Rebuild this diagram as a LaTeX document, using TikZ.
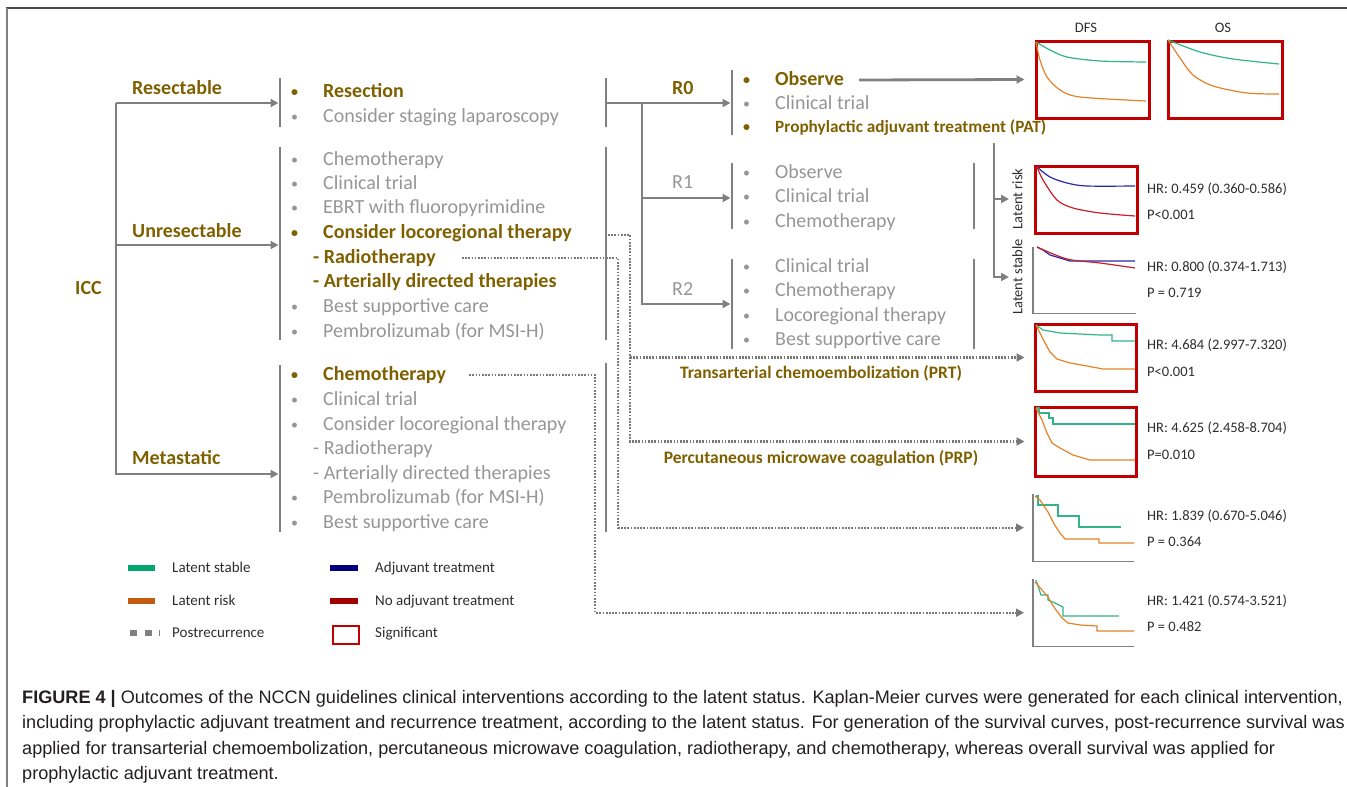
\documentclass[tikz,border=0pt]{standalone}
\usepackage{fontspec}
\setmainfont{Carlito}
\newfontfamily\capfont{Liberation Sans}
\usetikzlibrary{arrows.meta,positioning,calc}

\definecolor{golden}{RGB}{127,96,0}
\definecolor{itemgray}{RGB}{150,150,150}
\definecolor{linegray}{RGB}{128,128,128}
\definecolor{dotgray}{RGB}{120,120,120}
\definecolor{framedark}{RGB}{75,75,75}
\definecolor{barstable}{RGB}{0,166,110}
\definecolor{barrisk}{RGB}{197,90,17}
\definecolor{curvestable}{RGB}{50,180,135}
\definecolor{curverisk}{RGB}{228,130,40}
\definecolor{baradj}{RGB}{0,0,128}
\definecolor{barnoadj}{RGB}{160,0,0}
\definecolor{curveadj}{RGB}{40,40,170}
\definecolor{curvenoadj}{RGB}{200,30,40}
\definecolor{sigred}{RGB}{192,0,0}
\definecolor{inktext}{RGB}{45,45,45}
\definecolor{capink}{RGB}{35,31,32}

\newcommand{\bul}{\makebox[34pt][l]{\hspace{2pt}\raisebox{1.6pt}{\fontsize{14}{14}\selectfont\textbullet}}}

\tikzset{
  tree/.style={draw=linegray,line width=2.8pt},
  postrec/.style={draw=dotgray,line width=2.3pt,dash pattern=on 1.7pt off 1.5pt,->},
  txt/.style={anchor=west,inner sep=0pt,text height=15pt,text depth=3.4pt},
  item/.style={txt,text=itemgray,font=\fontsize{20}{24}\selectfont},
  keyitem/.style={txt,text=golden,font=\fontsize{20}{24}\selectfont\bfseries},
  smallkey/.style={anchor=center,inner sep=0pt,text=golden,font=\fontsize{17.5}{21}\selectfont\bfseries,text height=13pt,text depth=3pt},
  note/.style={anchor=west,inner sep=0pt,text=inktext,font=\fontsize{14.5}{17}\selectfont,text height=11pt,text depth=2.5pt},
  legend/.style={note,font=\fontsize{15}{18}\selectfont},
  sigbox/.style={draw=sigred,line width=3pt,inner sep=0pt,anchor=north west},
  kmaxes/.style={inner sep=0pt,anchor=north west},
  axis/.style={draw=gray,line width=1.2pt},
  curve/.style={line width=1.2pt},
  caption/.style={anchor=base west,inner sep=0pt,text=capink,font=\capfont\fontsize{18.1}{22}\selectfont},
}

\begin{document}
\begin{tikzpicture}[x=1pt,y=-1pt,>={Triangle[length=8pt,width=8pt]}]
\useasboundingbox (0,0) rectangle (1347,787);
% cornice
\draw[framedark,line width=1.8pt] (6,8) -- (1347,8);
\draw[gray,line width=1.6pt] (7,8) -- (7,787);

% ICC: tre rami
\node[keyitem] (icc) at (75,289) {ICC};
\node[keyitem] (resectable) at (132,89) {Resectable};
\node[keyitem] (unresectable) at (132,232) {Unresectable};
\node[keyitem] (metastatic) at (132,459) {Metastatic};
\coordinate (icctop) at (116,103);
\coordinate (resin) at (278.5,103);
\coordinate (unin) at (278.5,245);
\coordinate (metin) at (278.5,474);
\draw[tree,->] (icctop) -- (resin);
\draw[tree,->] (icctop) |- (unin);
\draw[tree,->] (icctop) |- (metin);

% parentesi delle liste
\draw[tree] (280,78) -- (280,127);
\draw[tree] (280,147) -- (280,340);
\draw[tree] (280,365) -- (280,532);
\draw[tree] (606,78) -- (606,127);
\draw[tree] (606,147) -- (606,340);
\draw[tree] (606,363) -- (606,532);
\draw[tree] (732,70) -- (732,135);
\draw[tree] (732,163) -- (732,229);
\draw[tree] (974,163) -- (974,229);
\draw[tree] (732,259) -- (732,349);
\draw[tree] (974,259) -- (974,349);

% resectable
\node[keyitem] (resection) at (289,92) {\bul Resection};
\node[item] (staging) at (289,117) {\bul Consider staging laparoscopy};

% unresectable
\node[item] (uchemo) at (289,160) {\bul Chemotherapy};
\node[item] (utrial) at (289,184) {\bul Clinical trial};
\node[item] (uebrt) at (289,208) {\bul EBRT with fluoropyrimidine};
\node[keyitem] (uloco) at (289,233) {\bul Consider locoregional therapy};
\node[keyitem] (uradio) at (313,258) {- Radiotherapy};
\node[keyitem] (uart) at (313,282) {- Arterially directed therapies};
\node[item] (ubsc) at (289,307) {\bul Best supportive care};
\node[item] (upembro) at (289,332) {\bul Pembrolizumab (for MSI-H)};

% metastatic
\node[keyitem] (mchemo) at (289,375) {\bul Chemotherapy};
\node[item] (mtrial) at (289,400) {\bul Clinical trial};
\node[item] (mloco) at (289,425) {\bul Consider locoregional therapy};
\node[item] (mradio) at (313,449) {- Radiotherapy};
\node[item] (mart) at (313,474) {- Arterially directed therapies};
\node[item] (mpembro) at (289,498) {\bul Pembrolizumab (for MSI-H)};
\node[item] (mbsc) at (289,523) {\bul Best supportive care};

% margini di resezione R0, R1, R2
\node[keyitem] (rzero) at (672,89) {R0};
\node[item] (rone) at (672,183) {R1};
\node[item] (rtwo) at (672,290) {R2};
\coordinate (rstem) at (606,103);
\coordinate (rsplit) at (642,103);
\coordinate (r0in) at (730.5,103);
\coordinate (r1in) at (730.5,198);
\coordinate (r2in) at (730.5,304);
\draw[tree,->] (rstem) -- (r0in);
\draw[tree,->] (rsplit) |- (r1in);
\draw[tree,->] (rsplit) |- (r2in);

\node[keyitem] (r0obs) at (741,80) {\bul Observe};
\node[item] (r0trial) at (741,104) {\bul Clinical trial};
\node[keyitem,font=\fontsize{17.2}{21}\selectfont\bfseries] (r0pat) at (741,127) {\bul Prophylactic adjuvant treatment (PAT)};
\node[item] (r1obs) at (741,173) {\bul Observe};
\node[item] (r1trial) at (741,197) {\bul Clinical trial};
\node[item] (r1chemo) at (741,222) {\bul Chemotherapy};
\node[item] (r2trial) at (741,267) {\bul Clinical trial};
\node[item] (r2chemo) at (741,291) {\bul Chemotherapy};
\node[item] (r2loco) at (741,316) {\bul Locoregional therapy};
\node[item] (r2bsc) at (741,340) {\bul Best supportive care};

% curve DFS e OS
\node[note,anchor=center] (dfslab) at (1086,28) {DFS};
\node[note,anchor=center] (oslab) at (1223,28) {OS};
\node[sigbox,minimum width=113pt,minimum height=77pt] (dfs) at (1034.5,39.5) {};
\node[sigbox,minimum width=114pt,minimum height=77pt] (os) at (1166.5,39.5) {};
\draw[curve,curvestable] plot[smooth] coordinates {(1036,42) (1050,50) (1067,57) (1100,61) (1146,62)};
\draw[curve,curverisk] plot[smooth] coordinates {(1036,42) (1040,60) (1047,77) (1060,90) (1080,97) (1146,101)};
\draw[curve,curvestable] plot[smooth] coordinates {(1168,40) (1200,52) (1233,59) (1279,64)};
\draw[curve,curverisk] plot[smooth] coordinates {(1168,40) (1180,58) (1193,75) (1213,86) (1247,93) (1279,94)};
\draw[->,tree] ([xshift=15pt]r0obs.east) -- ([xshift=-10pt]dfs.west);

% PAT: latent risk / latent stable
\node[note,anchor=center,rotate=90] (lrisk) at (1018,199) {Latent risk};
\node[note,anchor=center,rotate=90] (lstable) at (1018,277) {Latent stable};
\coordinate (pattop) at (994,143);
\coordinate (patrisk) at (1009,199);
\coordinate (patstable) at (1009,277);
\draw[tree,->] (pattop) |- (patrisk);
\draw[tree,->] (pattop) |- (patstable);

\node[sigbox,minimum width=102pt,minimum height=67pt] (lr) at (1033.5,164.5) {};
\draw[curve,curveadj] plot[smooth] coordinates {(1037,167) (1050,177) (1067,183) (1087,186) (1135,186)};
\draw[curve,curvenoadj] plot[smooth] coordinates {(1037,167) (1043,180) (1057,200) (1073,208) (1100,213) (1135,216)};
\node[note] (lrhr) at (1147,189) {HR: 0.459 (0.360-0.586)};
\node[note] (lrp) at (1147,215) {P<0.001};

\node[kmaxes,minimum width=103pt,minimum height=66pt] (ls) at (1033,247) {};
\draw[axis] (ls.north west) |- (ls.south east);
\draw[curve,curveadj] (1037,247) -- (1043,250) -- (1050,255) -- (1060,258) -- (1070,261) -- (1135,261);
\draw[curve,curvenoadj] plot[smooth] coordinates {(1037,247) (1067,259) (1100,263) (1135,268)};
\node[note] (lshr) at (1147,267) {HR: 0.800 (0.374-1.713)};
\node[note] (lsp) at (1147,293) {P = 0.719};

% trattamenti della recidiva
\node[sigbox,minimum width=101pt,minimum height=67pt] (tace) at (1033.5,322.5) {};
\draw[curve,curvestable] (1036,325) -- (1043,330) -- (1060,333) -- (1100,335) -- (1112,335) -- (1112,341) -- (1135,341);
\draw[curve,curverisk] (1036,325) -- (1045,343) -- (1050,352) -- (1057,359) -- (1070,363) -- (1087,366) -- (1103,369) -- (1135,369);
\node[note] (tacehr) at (1147,345) {HR: 4.684 (2.997-7.320)};
\node[note] (tacep) at (1147,372) {P<0.001};
\node[smallkey] (tacelab) at (821,373) {Transarterial chemoembolization (PRT)};

\node[sigbox,minimum width=101pt,minimum height=69pt] (prp) at (1033.5,405.5) {};
\draw[curve,curvestable] (1036,408) -- (1039,408) -- (1039,413) -- (1049,413) -- (1049,418) -- (1053,418) -- (1053,424) -- (1135,424);
\draw[curve,curverisk] (1036,408) -- (1042,420) -- (1047,433) -- (1052,443) -- (1060,448) -- (1073,455) -- (1090,460) -- (1135,460);
\node[note] (prphr) at (1147,428) {HR: 4.625 (2.458-8.704)};
\node[note] (prpp) at (1147,455) {P=0.010};
\node[smallkey] (prplab) at (821,458) {Percutaneous microwave coagulation (PRP)};

\node[kmaxes,minimum width=101pt,minimum height=67pt] (rtplot) at (1033,494) {};
\draw[axis] (rtplot.north west) |- (rtplot.south east);
\draw[curve,curvestable] (1036,496) -- (1038,496) -- (1038,505) -- (1058,505) -- (1058,516) -- (1079,516) -- (1079,527) -- (1121,527);
\draw[curve,curverisk] (1035,496) -- (1040,500) -- (1044,506) -- (1048,512) -- (1052,520) -- (1056,527) -- (1060,533) -- (1065,539) -- (1099,539) -- (1099,543) -- (1134,543);
\node[note] (rthr) at (1147,516) {HR: 1.839 (0.670-5.046)};
\node[note] (rtp) at (1147,542) {P = 0.364};

\node[kmaxes,minimum width=101pt,minimum height=67pt] (chplot) at (1033,579) {};
\draw[axis] (chplot.north west) |- (chplot.south east);
\draw[curve,curvestable] (1036,580) -- (1040,592) -- (1041,595) -- (1048,595) -- (1048,600) -- (1055,603) -- (1063,607) -- (1063,616) -- (1119,616);
\draw[curve,curverisk] (1035,582) -- (1042,590) -- (1048,597) -- (1052,604) -- (1056,610) -- (1062,618) -- (1068,623) -- (1080,625) -- (1097,626) -- (1097,631) -- (1134,631);
\node[note] (chhr) at (1147,601) {HR: 1.421 (0.574-3.521)};
\node[note] (chp) at (1147,627) {P = 0.482};

% frecce punteggiate (postrecurrence)
\coordinate (lrstart) at (608,235);
\coordinate (lrdrop) at (630,235);
\coordinate (rtdrop) at (618,258);
\coordinate (chdrop) at (595,375);
\draw[postrec] (lrstart) -- (lrdrop) |- ([xshift=-9pt]prp.west);
\draw[postrec] (lrdrop |- tace.west) -- ([xshift=-9pt]tace.west);
\draw[postrec] ([xshift=26pt]uradio.east) -- (rtdrop) |- ([xshift=-9pt]rtplot.west);
\draw[postrec] ([xshift=23pt]mchemo.east) -- (chdrop) |- ([xshift=-9pt]chplot.west);

% legenda
\draw[line width=6pt,barstable] (128,568) -- (155,568);
\node[legend] (lgstable) at (172,568) {Latent stable};
\draw[line width=6pt,barrisk] (128,601) -- (155,601);
\node[legend] (lgrisk) at (172,601) {Latent risk};
\draw[line width=6pt,linegray,dash pattern=on 7pt off 7.5pt on 7pt off 7pt on 1.5pt off 1pt] (130,633) -- (160,633);
\node[legend] (lgpost) at (172,633) {Postrecurrence};
\draw[line width=6pt,baradj] (330,568) -- (358,568);
\node[legend] (lgadj) at (375,568) {Adjuvant treatment};
\draw[line width=6pt,barnoadj] (330,601) -- (358,601);
\node[legend] (lgnoadj) at (375,601) {No adjuvant treatment};
\node[sigbox,line width=2.5pt,minimum width=26pt,minimum height=18pt] (lgbox) at (331.5,624.5) {};
\node[legend] (lgsig) at (375,633) {Significant};

% didascalia
\node[caption] (cap1) at (22,703) {\textbf{FIGURE 4 |} Outcomes of the NCCN guidelines clinical interventions according to the latent status. Kaplan-Meier curves were generated for each clinical intervention,};
\node[caption] (cap2) at (22,728.5) {including prophylactic adjuvant treatment and recurrence treatment, according to the latent status. For generation of the survival curves, post-recurrence survival was};
\node[caption] (cap3) at (22,754) {applied for transarterial chemoembolization, percutaneous microwave coagulation, radiotherapy, and chemotherapy, whereas overall survival was applied for};
\node[caption] (cap4) at (22,779.5) {prophylactic adjuvant treatment.};
\end{tikzpicture}
\end{document}
